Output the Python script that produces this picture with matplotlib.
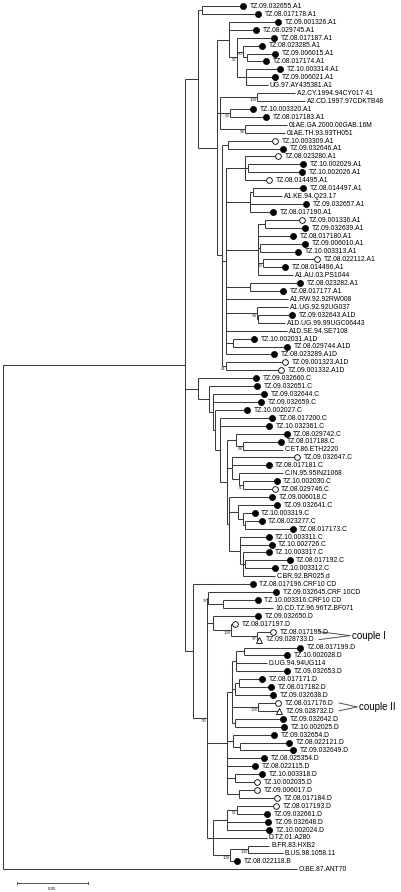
import matplotlib
matplotlib.use("Agg")
import matplotlib.pyplot as plt

# ---------------- data ----------------
LEAF_NAMES = [
    "TZ.09.032655.A1", "TZ.08.017178.A1", "TZ.09.001326.A1", "TZ.08.029745.A1", "TZ.08.017187.A1",
    "TZ.08.023285.A1", "TZ.09.006015.A1", "TZ.08.017174.A1", "TZ.10.003314.A1", "TZ.09.006021.A1",
    "UG.97.AY435381.A1", "A2.CY.1994.94CY017 41", "A2.CD.1997.97CDKTB48", "TZ.10.003320.A1", "TZ.08.017183.A1",
    "01AE.GA.2000.00GAB.16M", "01AE.TH.93.93TH051", "TZ.10.003309.A1", "TZ.09.032646.A1", "TZ.08.023280.A1",
    "TZ.10.002029.A1", "TZ.10.002026.A1", "TZ.08.014495.A1", "TZ.08.014497.A1", "A1.KE.94.Q23.17",
    "TZ.09.032657.A1", "TZ.08.017190.A1", "TZ.09.001336.A1", "TZ.09.032639.A1", "TZ.08.017180.A1",
    "TZ.09.006010.A1", "TZ.10.003313.A1", "TZ.08.022112.A1", "TZ.08.014496.A1", "A1.AU.03.PS1044",
    "TZ.08.023282.A1", "TZ.08.017177.A1", "A1.RW.92.92RW008", "A1.UG.92.92UG037", "TZ.09.032643.A1D",
    "A1D.UG.99.99UGC06443", "A1D.SE.94.SE7108", "TZ.10.002031.A1D", "TZ.08.029744.A1D", "TZ.08.023289.A1D",
    "TZ.09.001323.A1D", "TZ.09.001332.A1D", "TZ.09.032660.C", "TZ.09.032651.C", "TZ.09.032644.C",
    "TZ.09.032659.C", "TZ.10.002027.C", "TZ.08.017200.C", "TZ.10.032361.C", "TZ.08.029742.C",
    "TZ.08.017188.C", "C.ET.86.ETH2220", "TZ.09.032647.C", "TZ.08.017181.C", "C.IN.95.95IN21068",
    "TZ.10.002030.C", "TZ.08.029746.C", "TZ.09.006018.C", "TZ.09.032641.C", "TZ.10.003319.C",
    "TZ.08.023277.C", "TZ.08.017173.C", "TZ.10.003311.C", "TZ.10.002726.C", "TZ.10.003317.C",
    "TZ.08.017192.C", "TZ.10.003312.C", "C.BR.92.BR025.d", "TZ.08.017196.CRF10 CD", "TZ.09.032645.CRF 10CD",
    "TZ.10.003316.CRF10 CD", "10.CD.TZ.96.96TZ.BF071", "TZ.09.032650.D", "TZ.08.017197.D", "TZ.08.017195.D",
    "TZ.09.028733.D", "TZ.08.017199.D", "TZ.10.002028.D", "D.UG.94.94UG114", "TZ.09.032653.D",
    "TZ.08.017171.D", "TZ.08.017182.D", "TZ.09.032638.D", "TZ.08.017176.D", "TZ.09.028732.D",
    "TZ.09.032642.D", "TZ.10.002025.D", "TZ.09.032654.D", "TZ.08.022121.D", "TZ.09.032649.D",
    "TZ.08.025354.D", "TZ.08.022115.D", "TZ.10.003318.D", "TZ.10.002035.D", "TZ.09.006017.D",
    "TZ.08.017184.D", "TZ.08.017193.D", "TZ.09.032661.D", "TZ.09.032648.D", "TZ.10.002024.D",
    "D.TZ.01.A280", "B.FR.83.HXB2", "B.US.98.1058.11", "TZ.08.022118.B", "O.BE.87.ANT70",
]

# f = filled circle, o = open circle, t = open triangle, - = reference (no marker)
LEAF_MARKS = list(
    "ffffffffff" "---ff--ofo" "ffof-ffoff" "ffof-ff--f" "--fffoofff"
    "ffffff-of-" "foffffffff" "ff-fff-foo" "tff-ffffot" "ffffffffoo" "oofff---f-"
)

COUPLES = [("couple I", 80, 81), ("couple II", 89, 90)]

# Tree (Newick), branch lengths in milli-substitutions per site, internal labels = bootstrap
TREE = (
    "((("
    "(1:28.9,2:39.4):2.8,"
    "((3:34.5,4:19.0,(5:26.0,(6:13.4,(7:19.7,8:13.4):2.8)60:4.2,(9:23.9,10:20.4,11:15.5):6.3)52:5.6):8.4,"
    "((12:26.8,13:33.8)100:26.0,(14:16.2,15:25.3)54:7.0,(16:29.6,17:28.2)98:17.6):2.1,"
    "((18:33.1,19:38.7):4.2,"
    "((20:23.2,(21:38.7,22:38.0):2.1,23:16.9):13.4,"
    "((24:35.2,25:20.4):2.1,26:39.4,27:16.2):16.9,"
    "((28:26.0,29:28.2):4.9,30:24.6,(31:31.7,32:26.8):1.4,(33:38.0,34:15.5)53:3.5,35:24.6):22.5,"
    "(36:35.2,37:23.2):16.9,"
    "38:43.6,"
    "(39:21.8,(40:23.9,41:19.0):0.7)98:21.8,"
    "42:42.9,"
    "(43:14.8,44:38.0):4.9,"
    "45:33.8):2.8,"
    "(46:41.5,47:38.7)61:2.8):3.5):13.4):9.2,"
    # C clade
    "(48:40.8,(49:33.8,(50:35.9,51:33.8,(52:22.5,(53:36.6,54:34.5,"
    "((55:35.9,(56:26.8,57:28.2)68:4.9):6.3,"
    "(58:45.8,59:26.0,(60:31.0,(61:23.9,62:22.5)71:2.8):4.9):3.5,"
    "(63:30.3,(64:27.5,(65:8.4,(66:12.0,67:33.8):1.4):3.5):6.3,"
    "(68:20.4,69:22.5,(70:18.3,(71:31.7,72:21.1):1.4,73:22.5):2.1):7.7):1.4"
    "):4.9):3.5):1.4):2.8):7.7):9.2,"
    # CD / D / B
    "(74:42.2,("
    "(75:47.9,(76:24.6,77:35.2):10.6)97:0.7,"
    "(78:31.7,(79:2.8,(80:11.3,81:1.4)97:18.3)100:12.7):4.2,"
    "((((82:39.4,83:30.3):5.6,84:21.8,85:35.9):2.8,((86:16.2,87:22.5):2.8,88:26.8):2.1,"
    "(89:14.1,90:14.8)100:18.3,(91:33.8,92:34.5):2.1):3.5,"
    "(93:28.9,(94:34.5,95:37.3):4.9):4.2,96:26.0,97:19.7,(98:19.0,99:15.5):5.6,(100:12.7,101:26.8):8.4):14.1,"
    "(((102:27.5,103:21.1)51:7.0,104:28.9,105:29.6):9.9,106:38.0,((107:14.8,108:24.6)100:12.7,109:4.9)100:12.0):4.2"
    ")50:9.9):5.6"
    "):128.1,110:207.0);"
)

SCALE_BAR = 50.0          # milli-substitutions (0.05)
SCALE_LABEL = "0.05"


# ---------------- parsing ----------------
def parse(s):
    pos = 0

    def node():
        nonlocal pos
        n = {"children": [], "name": "", "label": "", "bl": 0.0}
        if s[pos] == "(":
            pos += 1
            while True:
                n["children"].append(node())
                if s[pos] == ",":
                    pos += 1
                    continue
                if s[pos] == ")":
                    pos += 1
                    break
                raise ValueError("bad newick at %d" % pos)
        start = pos
        while s[pos] not in ":,);":
            pos += 1
        txt = s[start:pos].strip()
        if n["children"]:
            n["label"] = txt
        else:
            n["name"] = txt
        if s[pos] == ":":
            pos += 1
            start = pos
            while s[pos] not in ",);":
                pos += 1
            n["bl"] = float(s[start:pos])
        return n

    return node()


root = parse(TREE)


def layout(n, x0):
    n["x"] = x0 + n["bl"]
    if not n["children"]:
        n["y"] = float(int(n["name"]))
    else:
        for c in n["children"]:
            layout(c, n["x"])
        n["y"] = 0.5 * (n["children"][0]["y"] + n["children"][-1]["y"])


root["bl"] = 0.0
layout(root, 0.0)

# ---------------- drawing ----------------
PX = 0.704   # milli-substitutions per pixel (from scale bar)
fig = plt.figure(figsize=(4.01, 8.92), dpi=100)
ax = fig.add_axes([0, 0, 1, 1])
ax.set_xlim(-3 * PX, 398 * PX)
ax.set_ylim(1 + (892 - 6) / 7.92, 1 - 6 / 7.92)
ax.axis("off")

LC = "#3a3a3a"
LW = 0.75
FONT = "Liberation Sans"


def draw(n, parent_x=None):
    if parent_x is not None:
        ax.plot([parent_x, n["x"]], [n["y"], n["y"]], color=LC, lw=LW, solid_capstyle="butt")
    if n["children"]:
        ys = [c["y"] for c in n["children"]]
        ax.plot([n["x"], n["x"]], [min(ys), max(ys)], color=LC, lw=LW, solid_capstyle="butt")
        if n["label"]:
            ax.text(n["x"] - 0.5 * PX, n["y"] + 0.12, n["label"], fontsize=3.2, ha="right", va="top",
                    color="#333333", family=FONT)
        for c in n["children"]:
            draw(c, n["x"])
    else:
        i = int(n["name"])
        mk = LEAF_MARKS[i - 1]
        name = LEAF_NAMES[i - 1]
        if mk == "f":
            ax.plot(n["x"], n["y"], "o", ms=4.4, mfc="black", mec="black", mew=0.5)
        elif mk == "o":
            ax.plot(n["x"], n["y"], "o", ms=4.1, mfc="white", mec="black", mew=0.6)
        elif mk == "t":
            ax.plot(n["x"], n["y"], "^", ms=4.4, mfc="white", mec="black", mew=0.6)
        off = 6.5 * PX if mk != "-" else 2.0 * PX
        ax.text(n["x"] + off, n["y"] + 0.05, name, fontsize=4.9, ha="left", va="center",
                family=FONT, color="black")


draw(root)

leaf_y = {}


def collect(n):
    if n["children"]:
        for c in n["children"]:
            collect(c)
    else:
        leaf_y[int(n["name"])] = n["y"]


collect(root)
for txt, a, b in COUPLES:
    ym = 0.5 * (leaf_y[a] + leaf_y[b])
    xs = 316 * PX if txt == "couple I" else 336 * PX
    xa = 347 * PX if txt == "couple I" else 354 * PX
    for yy in (leaf_y[a], leaf_y[b]):
        ax.plot([xs, xa], [yy, ym], color=LC, lw=0.6)
    ax.text(xa + 2 * PX, ym, txt, fontsize=7, ha="left", va="center", family=FONT)

# scale bar
ysb = 1 + (883 - 6) / 7.92
x0 = 14 * PX
ax.plot([x0, x0 + SCALE_BAR], [ysb, ysb], color=LC, lw=0.6)
for xx in (x0, x0 + SCALE_BAR):
    ax.plot([xx, xx], [ysb - 0.15, ysb + 0.15], color=LC, lw=0.6)
ax.text(x0 + SCALE_BAR / 2, ysb + 0.45, SCALE_LABEL, fontsize=3.2, ha="center", va="top", family=FONT)

fig.savefig("out.png", dpi=100, facecolor="white")
